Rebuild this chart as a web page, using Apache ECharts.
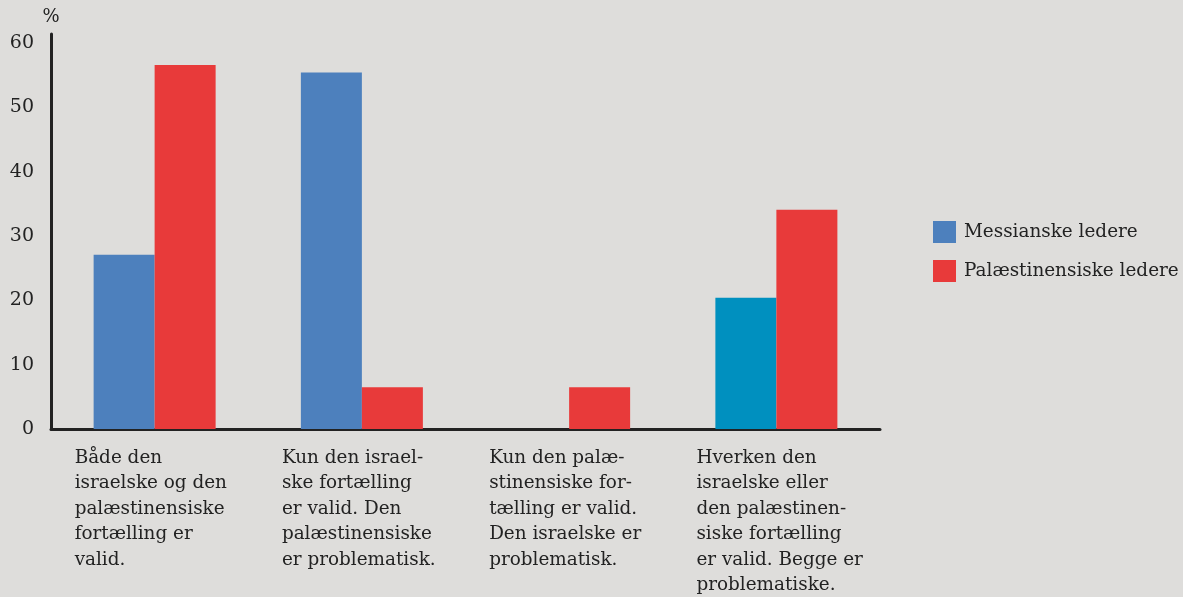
<!DOCTYPE html>
<html>
<head>
<meta charset="utf-8">
<script src="https://cdn.jsdelivr.net/npm/echarts@6/dist/echarts.min.js"></script>
<style>
  html, body { margin: 0; padding: 0; background: #dedddb; }
  #chart { width: 1183px; height: 597px; }
</style>
</head>
<body>
<div id="chart"></div>
<script>
const categories = [
  'Både den\nisraelske og den\npalæstinensiske\nfortælling er\nvalid.',
  'Kun den israel-\nske fortælling\ner valid. Den\npalæstinensiske\ner problematisk.',
  'Kun den palæ-\nstinensiske for-\ntælling er valid.\nDen israelske er\nproblematisk.',
  'Hverken den\nisraelske eller\nden palæstinen-\nsiske fortælling\ner valid. Begge er\nproblematiske.'
];
const messianske = [27.1, 55.4, 0, 20.4];
const palaestinensiske = [56.6, 6.5, 6.5, 34.1];
const yTicks = [0, 10, 20, 30, 40, 50, 60];

const font = '"DejaVu Serif", "Liberation Serif", serif';
const ink = '#222222';
const blue = '#4d80bd';
const teal = '#0090bf';
const red = '#e83a3a';

const chart = echarts.init(document.getElementById('chart'));

chart.setOption({
  backgroundColor: '#dedddb',
  animation: false,
  textStyle: { fontFamily: font, color: ink },
  grid: {
    left: 51, right: 303, top: 34, bottom: 168,
    containLabel: false,
    outerBoundsMode: 'none'
  },
  legend: {
    orient: 'vertical',
    left: 928,
    top: 216,
    itemWidth: 23,
    itemHeight: 22,
    itemGap: 17,
    icon: 'rect',
    textStyle: { fontFamily: font, fontSize: 18.4, color: ink, padding: [0, 0, 0, 3] },
    data: ['Messianske ledere', 'Palæstinensiske ledere']
  },
  xAxis: {
    type: 'category',
    data: categories,
    axisLine: { lineStyle: { color: ink, width: 3 } },
    axisTick: { show: false },
    axisLabel: {
      interval: 0,
      align: 'left',
      margin: 16,
      padding: [0, 0, 0, -80],
      lineHeight: 25.5,
      fontSize: 18.4,
      fontFamily: font,
      color: ink
    }
  },
  yAxis: {
    type: 'value',
    min: 0,
    max: 61.4,
    interval: 10,
    name: '%',
    nameLocation: 'end',
    nameGap: 8,
    nameTextStyle: { fontFamily: font, fontSize: 18, color: ink, align: 'center' },
    splitLine: { show: false },
    axisTick: { show: false },
    axisLine: { show: true, lineStyle: { color: ink, width: 3 } },
    axisLabel: {
      margin: 17,
      fontSize: 19,
      fontFamily: font,
      color: ink,
      formatter: v => (yTicks.indexOf(v) >= 0 ? String(v) : '')
    }
  },
  series: [
    {
      name: 'Messianske ledere',
      type: 'bar',
      barWidth: 61,
      barGap: '0%',
      itemStyle: { color: blue },
      data: messianske.map((v, i) => (i === 3 ? { value: v, itemStyle: { color: teal } } : v))
    },
    {
      name: 'Palæstinensiske ledere',
      type: 'bar',
      barWidth: 61,
      barGap: '0%',
      itemStyle: { color: red },
      data: palaestinensiske
    }
  ]
});
</script>
</body>
</html>
